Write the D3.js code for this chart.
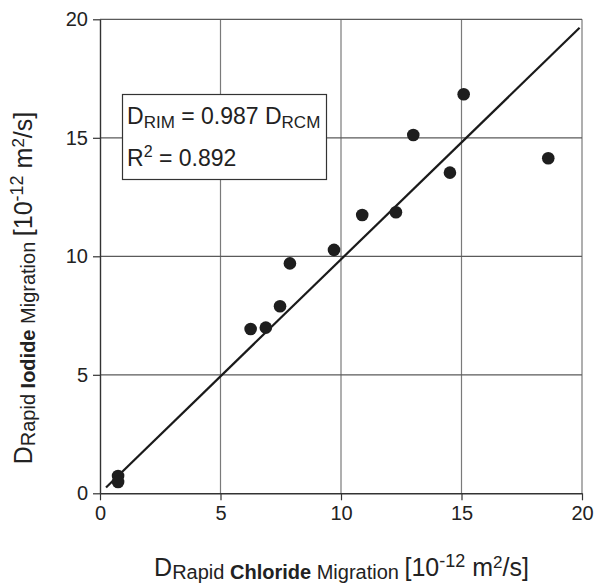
<!DOCTYPE html>
<html><head><meta charset="utf-8">
<script src="https://cdn.jsdelivr.net/npm/d3@7"></script>
<style>body{margin:0;background:#fff}svg{display:block;font-family:"Liberation Sans",Arial,sans-serif}</style>
</head><body><svg id="c" width="602" height="584"></svg>
<script>
const chlorideX = [0.75, 0.75, 6.25, 6.88, 7.47, 7.88, 9.71, 10.88, 12.28, 13.0, 14.52, 15.09, 18.6];
const iodideY   = [0.73, 0.48, 6.93, 6.99, 7.89, 9.70, 10.27, 11.74, 11.86, 15.12, 13.53, 16.84, 14.14];
const xTicks = [0, 5, 10, 15, 20];
const yTicks = [0, 5, 10, 15, 20];
const slope = 0.987;
const fitRange = [0.25, 19.9];

const svg = d3.select("#c");
const x = d3.scaleLinear().domain([0, 20]).range([100, 582]);
const y = d3.scaleLinear().domain([0, 20]).range([493.3, 19.3]);

// grid
svg.append("g").selectAll("line").data(xTicks.slice(1)).join("line")
  .attr("x1", d => x(d)).attr("x2", d => x(d)).attr("y1", y(0)).attr("y2", y(20))
  .attr("stroke", "#7a7a7a").attr("stroke-width", 1.2);
svg.append("g").selectAll("line").data(yTicks.slice(1)).join("line")
  .attr("x1", x(0)).attr("x2", x(20)).attr("y1", d => y(d)).attr("y2", d => y(d))
  .attr("stroke", "#5a5a5a").attr("stroke-width", 1.2);

// axes
const xa = svg.append("g").attr("transform", `translate(0,${y(0)})`)
  .call(d3.axisBottom(x).tickValues(xTicks).tickSize(7).tickPadding(6).tickSizeOuter(0));
const ya = svg.append("g").attr("transform", `translate(${x(0)},0)`)
  .call(d3.axisLeft(y).tickValues(yTicks).tickSize(7).tickPadding(5).tickSizeOuter(0));
[xa, ya].forEach(a => {
  a.select(".domain").attr("stroke", "#333").attr("stroke-width", 1.4);
  a.selectAll(".tick line").attr("stroke", "#333").attr("stroke-width", 1.2);
  a.selectAll(".tick text").attr("font-size", 20).attr("fill", "#222")
    .attr("font-family", "Liberation Sans, Arial, sans-serif");
});

// fit line
svg.append("line")
  .attr("x1", x(fitRange[0])).attr("y1", y(slope * fitRange[0]))
  .attr("x2", x(fitRange[1])).attr("y2", y(slope * fitRange[1]))
  .attr("stroke", "#1a1a1a").attr("stroke-width", 2.2);

// points
svg.append("g").selectAll("circle").data(chlorideX.map((v, i) => [v, iodideY[i]])).join("circle")
  .attr("cx", d => x(d[0])).attr("cy", d => y(d[1])).attr("r", 6.3).attr("fill", "#1e1e1e");

// text box
svg.append("rect").attr("x", 122.5).attr("y", 94.5).attr("width", 204).attr("height", 85)
  .attr("fill", "#fff").attr("stroke", "#333").attr("stroke-width", 1.2);
const t1 = svg.append("text").attr("x", 127).attr("y", 123.5).attr("font-size", 23).attr("fill", "#222");
t1.append("tspan").text("D");
t1.append("tspan").attr("dy", 4).attr("font-size", 17).text("RIM");
t1.append("tspan").attr("dy", -4).text(" = 0.987 D");
t1.append("tspan").attr("dy", 4).attr("font-size", 17).text("RCM");
const t2 = svg.append("text").attr("x", 127).attr("y", 166).attr("font-size", 23).attr("fill", "#222");
t2.append("tspan").text("R");
t2.append("tspan").attr("dy", -9).attr("font-size", 16).text("2");
t2.append("tspan").attr("dy", 9).text(" = 0.892");

function label(sel, bold) {
  sel.append("tspan").text("D");
  sel.append("tspan").attr("dy", 3).attr("font-size", 20).text("Rapid ");
  sel.append("tspan").attr("font-size", 20).attr("font-weight", "bold").text(bold);
  sel.append("tspan").attr("font-size", 20).text(" Migration ");
  sel.append("tspan").attr("dy", -3).text("[10");
  sel.append("tspan").attr("dy", -9).attr("font-size", 18).text("-12");
  sel.append("tspan").attr("dy", 9).text(" m");
  sel.append("tspan").attr("dy", -8).attr("font-size", 17).text("2");
  sel.append("tspan").attr("dy", 8).text("/s]");
}
const xl = svg.append("text").attr("x", 341.5).attr("y", 576).attr("text-anchor", "middle")
  .attr("font-size", 25).attr("fill", "#222");
label(xl, "Chloride");
const yl = svg.append("text").attr("transform", "translate(32,288) rotate(-90)").attr("text-anchor", "middle")
  .attr("font-size", 25).attr("fill", "#222");
label(yl, "Iodide");
</script></body></html>
